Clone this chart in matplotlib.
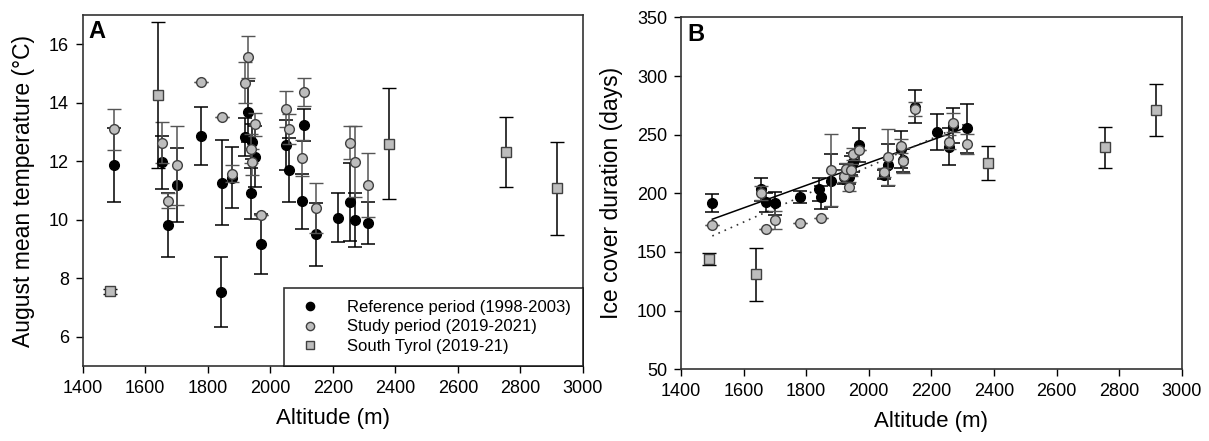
import numpy as np
import matplotlib.pyplot as plt

plt.rcParams['font.family'] = ['Liberation Sans', 'DejaVu Sans']

# Altitude of the monitored lakes (m)
altitud = [1500, 1655, 1672, 1701, 1779, 1841, 1847, 1878, 1920, 1928, 1938, 1942,
           1950, 1970, 2050, 2061, 2102, 2108, 2147, 2217, 2256, 2270, 2313]

# A: August mean temperature
temp_ref = [11.87, 11.97, 9.82, 11.19, 12.86, 7.54, 11.27, 11.44, 12.84, 13.70, 10.90, 12.67,
            12.16, 9.16, 12.55, 11.70, 10.64, 13.24, 9.50, 10.07, 10.61, 9.99, 9.90]
temp_ref_err = [1.25, 0.91, 1.10, 1.27, 1.00, 1.19, 1.46, 1.05, 0.65, 1.05, 0.88, 0.60,
                1.03, 1.03, 0.85, 1.10, 0.94, 0.56, 1.08, 0.83, 1.34, 0.91, 0.72]
temp_est = [13.10, 12.64, 10.65, 11.86, 14.71, np.nan, 13.51, 11.58, 14.68, 15.57, 12.43, 11.97,
            13.26, 10.16, 13.78, 13.10, 12.10, 14.37, 10.39, np.nan, 12.64, 11.99, 11.18]
temp_est_err = [0.70, 0.70, 0.25, 1.35, 0.0, 0.0, 0.0, 0.30, 0.70, 0.71, 0.50, 0.45,
                0.40, 0.0, 0.62, 0.50, 0.62, 0.47, 0.85, 0.0, 0.57, 1.22, 1.09]

# B: ice cover duration
hielo_ref = [191.5, 203.4, 192.5, 191.5, 197.1, 203.4, 196.6, 210.7, 214.2, 217.0, 213.6, 223.6,
             226.4, 241.5, 216.0, 224.1, 237.5, 228.0, 273.9, 252.0, 239.7, 257.7, 255.4]
hielo_ref_err = [7.8, 10.0, 8.0, 10.0, 5.0, 10.0, 10.0, 22.7, 6.0, 8.0, 6.0, 8.0,
                 8.0, 14.5, 4.0, 18.0, 15.5, 10.0, 14.0, 15.4, 15.6, 15.0, 21.0]
hielo_est = [172.7, 200.0, 170.0, 177.2, 174.4, np.nan, 179.2, 219.9, 215.0, 220.5, 205.7, 220.0,
             233.5, 237.0, 217.9, 230.7, 240.3, 227.8, 271.6, np.nan, 243.5, 260.2, 241.8]
hielo_est_err = [0.0, 6.0, 0.0, 8.0, 0.0, 0.0, 0.0, 31.0, 5.0, 5.0, 4.0, 5.0,
                 5.0, 0.0, 4.0, 24.0, 6.0, 10.8, 6.0, 0.0, 6.0, 8.0, 8.6]

# South Tyrol lakes
alt_tirol = [1488, 1640, 2380, 2755, 2918]
temp_tirol = [7.55, 14.27, 12.60, 12.33, 11.07]
temp_tirol_err = [0.10, 2.50, 1.90, 1.20, 1.58]
hielo_tirol = [144.0, 131.0, 226.1, 239.2, 271.0]
hielo_tirol_err = [5.0, 22.7, 14.6, 17.7, 21.9]

gris = '#bdbdbd'
borde = '#404040'

fig = plt.figure(figsize=(12.09, 4.41), dpi=100)
axA = fig.add_axes([0.0684, 0.170, 0.4138, 0.796])
axB = fig.add_axes([0.5633, 0.1626, 0.4141, 0.798])


def dibujar(ax, y_ref, e_ref, y_est, e_est, y_tir, e_tir):
    ax.errorbar(altitud, y_ref, yerr=e_ref, fmt='o', color='black', ms=7, mec='black',
                ecolor='black', elinewidth=1.1, capsize=5, capthick=1.1,
                label='Reference period (1998-2003)', zorder=3)
    ax.errorbar(altitud, y_est, yerr=e_est, fmt='o', mfc=gris, mec=borde, mew=1.0, ms=7,
                ecolor='#555555', elinewidth=1.1, capsize=5, capthick=1.1,
                label='Study period (2019-2021)', zorder=4)
    ax.errorbar(alt_tirol, y_tir, yerr=e_tir, fmt='s', mfc=gris, mec=borde, mew=1.0, ms=6.5,
                ecolor='black', elinewidth=1.1, capsize=5, capthick=1.1,
                label='South Tyrol (2019-21)', zorder=4)
    ax.set_xlim(1400, 3000)
    ax.set_xticks(range(1400, 3001, 200))
    ax.tick_params(direction='out', length=5, labelsize=13, width=1, pad=5)
    for s in ax.spines.values():
        s.set_linewidth(1.2)
        s.set_color('#333333')
    ax.set_xlabel('Altitude (m)', fontsize=16, labelpad=8)


dibujar(axA, temp_ref, temp_ref_err, temp_est, temp_est_err, temp_tirol, temp_tirol_err)
axA.set_ylim(5, 17)
axA.set_yticks(range(6, 17, 2))
axA.set_ylabel('August mean temperature (°C)', fontsize=16.5, labelpad=10)
axA.text(0.012, 0.985, 'A', transform=axA.transAxes, fontsize=17, fontweight='bold',
         va='top', ha='left')
h, l = axA.get_legend_handles_labels()
h = [x[0] for x in h]
leg = axA.legend(h, l, loc='lower right', bbox_to_anchor=(1.0, 0.0), borderaxespad=0,
                 fontsize=12, frameon=True, fancybox=False, edgecolor='black',
                 handletextpad=1.4, handlelength=1.6, labelspacing=0.25, borderpad=0.75,
                 markerscale=0.85)
leg.get_frame().set_linewidth(1.2)

dibujar(axB, hielo_ref, hielo_ref_err, hielo_est, hielo_est_err, hielo_tirol, hielo_tirol_err)
axB.set_ylim(50, 350)
axB.set_yticks(range(50, 351, 50))
axB.set_ylabel('Ice cover duration (days)', fontsize=16.5, labelpad=10)
axB.text(0.012, 0.985, 'B', transform=axB.transAxes, fontsize=17, fontweight='bold',
         va='top', ha='left')

# regresiones lineales de los lagos alpinos
alt = np.array(altitud, dtype=float)
xx = np.array([min(altitud), max(altitud)], dtype=float)
ref = np.array(hielo_ref)
est = np.array(hielo_est)
m = ~np.isnan(est)
p_ref = np.polyfit(alt, ref, 1)
p_est = np.polyfit(alt[m], est[m], 1)
axB.plot(xx, np.polyval(p_ref, xx), color='black', lw=1.1, zorder=2)
axB.plot(xx, np.polyval(p_est, xx), color='#333333', lw=1.2, ls=(0, (1, 3)), zorder=2)

fig.savefig('out.png', dpi=100)
